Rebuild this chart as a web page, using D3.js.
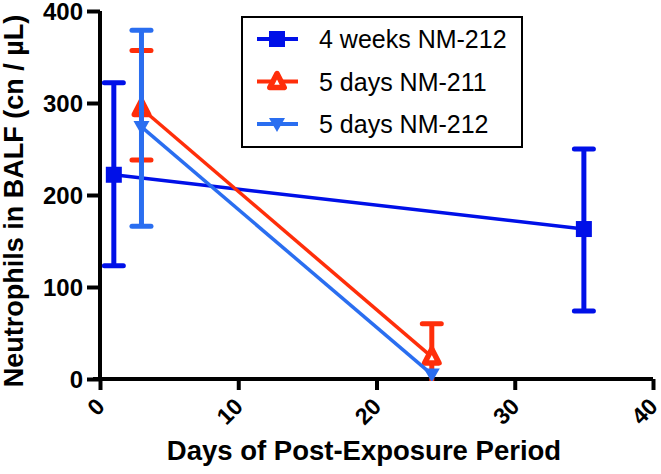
<!DOCTYPE html>
<html>
<head>
<meta charset="utf-8">
<script src="https://cdn.jsdelivr.net/npm/d3@7"></script>
<style>
  body { margin: 0; background: #fff; }
  text { font-family: "Liberation Sans", Arial, sans-serif; }
</style>
</head>
<body>
<svg id="chart" width="661" height="474"></svg>
<script>
// ---- data ----
const seriesNames = ["4 weeks NM-212", "5 days NM-211", "5 days NM-212"];
const seriesColors = ["#0010e8", "#ff2e0a", "#2a6ef0"];
const seriesMarkers = ["square", "triangle", "triangleDown"];
const days4wNM212 = [1, 35];
const mean4wNM212 = [222, 163];
const low4wNM212 = [123, 74];
const high4wNM212 = [322, 250];
const days5dNM211 = [3, 24];
const mean5dNM211 = [294, 24];
const low5dNM211 = [238, -12];
const high5dNM211 = [357, 60];
const days5dNM212 = [3, 24];
const mean5dNM212 = [274, 5];
const low5dNM212 = [166, 5];
const high5dNM212 = [379, 5];
const xTicks = [0, 10, 20, 30, 40];
const yTicks = [0, 100, 200, 300, 400];
const xLabel = "Days of Post-Exposure Period";
const yLabel = "Neutrophils in BALF (cn / µL)";

const series = [
  {days: days4wNM212, mean: mean4wNM212, low: low4wNM212, high: high4wNM212},
  {days: days5dNM211, mean: mean5dNM211, low: low5dNM211, high: high5dNM211},
  {days: days5dNM212, mean: mean5dNM212, low: low5dNM212, high: high5dNM212}
].map((s, i) => ({...s, name: seriesNames[i], color: seriesColors[i], marker: seriesMarkers[i]}));

// ---- layout ----
const svg = d3.select("#chart");
const x = d3.scaleLinear().domain([0, 40]).range([100, 653]);
const y = d3.scaleLinear().domain([0, 400]).range([379, 11]);

svg.append("defs").append("clipPath").attr("id", "plotclip")
  .append("rect").attr("x", 90).attr("y", 0).attr("width", 580).attr("height", 381);

// axes
const yAxis = svg.append("g").attr("transform", `translate(${x(0)},0)`)
  .call(d3.axisLeft(y).tickValues(yTicks).tickSize(13).tickSizeOuter(0).tickPadding(4));
const xAxis = svg.append("g").attr("transform", `translate(0,${y(0)})`)
  .call(d3.axisBottom(x).tickValues(xTicks).tickSize(11).tickSizeOuter(0).tickFormat(""));
[yAxis, xAxis].forEach(a => {
  a.select(".domain").attr("stroke", "#000").attr("stroke-width", 4);
  a.selectAll(".tick line").attr("stroke", "#000").attr("stroke-width", 4);
});
xAxis.select(".domain").attr("d", `M${x(0) - 7},0H${x(40)}`);
yAxis.select(".domain").attr("d", `M0,${y(400)}V${y(0) + 2}`);
yAxis.selectAll(".tick text")
  .attr("font-size", 24).attr("font-weight", "bold").attr("fill", "#000")
  .attr("dy", "0.36em")
  .attr("font-family", "Liberation Sans, Arial, sans-serif");

// rotated x tick labels
svg.append("g").selectAll("text").data(xTicks).join("text")
  .attr("transform", d => `translate(${x(d) + 6},${y(0) + 29}) rotate(-45)`)
  .attr("text-anchor", "end")
  .attr("font-size", 23).attr("font-weight", "bold")
  .text(d => d);

// axis titles
svg.append("text").attr("x", 364).attr("y", 460).attr("text-anchor", "middle")
  .attr("font-size", 27.5).attr("font-weight", "bold").text(xLabel);
svg.append("text").attr("transform", "translate(23,201) rotate(-90)").attr("text-anchor", "middle")
  .attr("font-size", 27).attr("font-weight", "bold").text(yLabel);

// markers
function drawMarker(g, type, color, cx, cy) {
  if (type === "square") {
    g.append("rect").attr("x", cx - 8).attr("y", cy - 8).attr("width", 16).attr("height", 16)
      .attr("fill", color);
  } else if (type === "triangle") {
    const s = 8;
    g.append("path")
      .attr("d", `M${cx},${cy - s}L${cx + s * 0.9},${cy + s * 0.75}L${cx - s * 0.9},${cy + s * 0.75}Z`)
      .attr("fill", "#fff").attr("stroke", color).attr("stroke-width", 5.5).attr("stroke-linejoin", "round");
  } else {
    const s = 8;
    g.append("path")
      .attr("d", `M${cx},${cy + s}L${cx + s},${cy - s * 0.75}L${cx - s},${cy - s * 0.75}Z`)
      .attr("fill", color);
  }
}

// plot
const plot = svg.append("g").attr("clip-path", "url(#plotclip)");
series.forEach(s => {
  const g = plot.append("g");
  const pts = s.days.map((d, i) => ({d, m: s.mean[i], lo: s.low[i], hi: s.high[i]}));
  // error bars
  pts.forEach(p => {
    if (p.hi === p.lo) return;
    g.append("line").attr("x1", x(p.d)).attr("x2", x(p.d)).attr("y1", y(p.lo)).attr("y2", y(p.hi))
      .attr("stroke", s.color).attr("stroke-width", 5);
    [p.lo, p.hi].forEach(v => {
      g.append("line").attr("x1", x(p.d) - 9.5).attr("x2", x(p.d) + 9.5).attr("y1", y(v)).attr("y2", y(v))
        .attr("stroke", s.color).attr("stroke-width", 5).attr("stroke-linecap", "round");
    });
  });
  // connecting line
  g.append("path").datum(pts)
    .attr("d", d3.line().x(p => x(p.d)).y(p => y(p.m)))
    .attr("fill", "none").attr("stroke", s.color).attr("stroke-width", 3.5);
  pts.forEach(p => drawMarker(g, s.marker, s.color, x(p.d), y(p.m)));
});

// legend
const lg = svg.append("g");
lg.append("rect").attr("x", 242).attr("y", 17).attr("width", 280).attr("height", 130)
  .attr("fill", "#fff").attr("stroke", "#000").attr("stroke-width", 2);
const rowY = d3.scalePoint().domain(seriesNames).range([39, 124]);
series.forEach(s => {
  const cy = rowY(s.name);
  lg.append("line").attr("x1", 257).attr("x2", 298).attr("y1", cy).attr("y2", cy)
    .attr("stroke", s.color).attr("stroke-width", 4);
  drawMarker(lg, s.marker, s.color, 277, cy);
  lg.append("text").attr("x", 319).attr("y", cy).attr("dy", "0.36em")
    .attr("font-size", 25).attr("fill", "#000").text(s.name);
});
</script>
</body>
</html>
